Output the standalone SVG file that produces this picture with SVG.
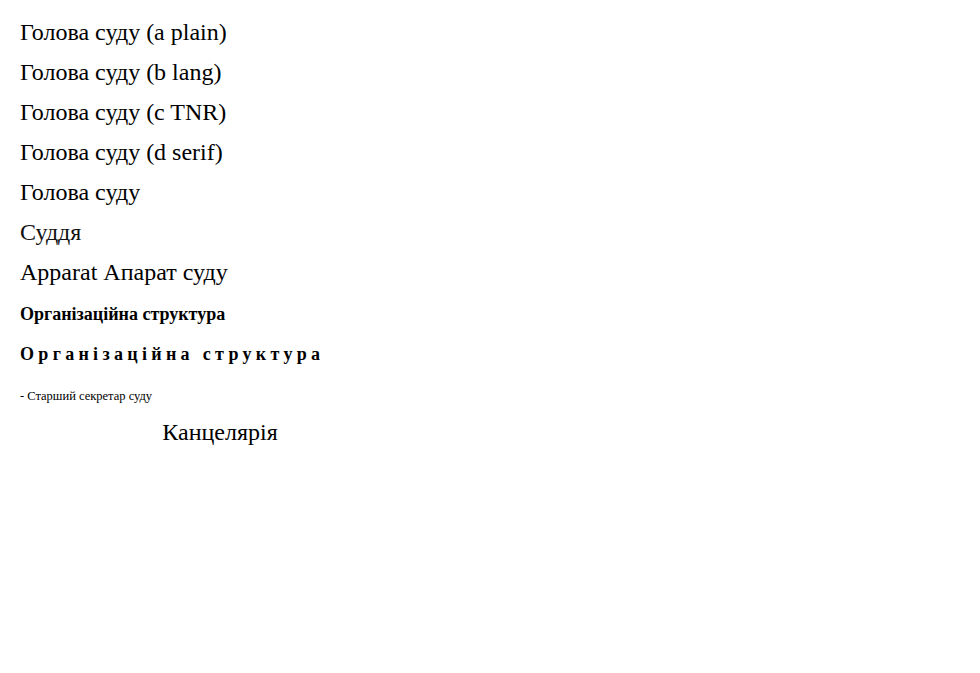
<svg xmlns="http://www.w3.org/2000/svg" width="980" height="673" viewBox="0 0 980 673">
<rect width="980" height="673" fill="#fff"/>
<text x="20" y="40" font-family="Liberation Serif" font-size="24">Голова суду (a plain)</text>
<text x="20" y="80" font-family="Liberation Serif" font-size="24" xml:lang="uk">Голова суду (b lang)</text>
<text x="20" y="120" font-family="Times New Roman" font-size="24">Голова суду (c TNR)</text>
<text x="20" y="160" font-family="serif" font-size="24">Голова суду (d serif)</text>
<text x="20" y="200" font-family="Liberation Serif" font-size="24">Голова суду</text>
<text x="20" y="240" font-family="Liberation Serif" font-size="24" fill="#111">Суддя</text>
<text x="20" y="280" font-family="Liberation Serif" font-size="24" text-anchor="start">Apparat Апарат суду</text>
<text x="20" y="320" font-family="Liberation Serif" font-size="18" font-weight="bold">Організаційна структура</text>
<text x="20" y="360" font-family="Liberation Serif" font-size="18" font-weight="bold" textLength="300" lengthAdjust="spacing">Організаційна структура</text>
<text x="20" y="400" font-family="Liberation Serif" font-size="12.5">- Старший секретар суду</text>
<text x="20" y="440" font-family="Liberation Serif" font-size="24" text-anchor="middle" transform="translate(200,0)">Канцелярія</text>
</svg>
